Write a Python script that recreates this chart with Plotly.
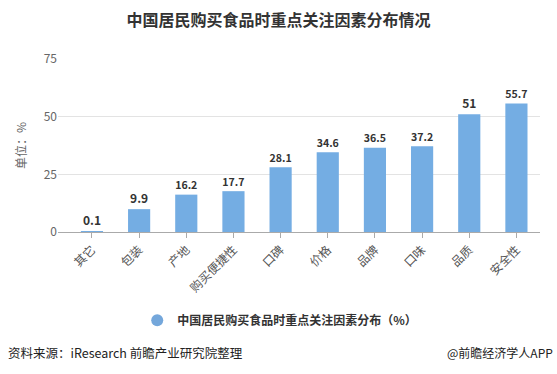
import plotly.graph_objects as go

categories = ["其它", "包装", "产地", "购买便捷性", "口碑", "价格", "品牌", "口味", "品质", "安全性"]
values = [0.1, 9.9, 16.2, 17.7, 28.1, 34.6, 36.5, 37.2, 51, 55.7]
series_name = "中国居民购买食品时重点关注因素分布（%）"
title_text = "中国居民购买食品时重点关注因素分布情况"
y_ticks = [0, 25, 50, 75]
source_text = "资料来源：iResearch 前瞻产业研究院整理"
brand_text = "@前瞻经济学人APP"

FONT = "Noto Sans CJK SC, Microsoft YaHei, sans-serif"
BAR = "#74ade3"

fig = go.Figure()
fig.add_trace(go.Bar(
    x=list(range(len(categories))), y=values, width=0.47,
    marker=dict(color=BAR, line=dict(width=0)),
    text=[f"<b>{v:g}</b>" for v in values], textposition="outside",
    textfont=dict(family=FONT, size=12, color="#333333"),
    cliponaxis=False, showlegend=False, name=series_name,
))
fig.add_trace(go.Scatter(
    x=[None], y=[None], mode="markers", name=f"<b>{series_name}</b>",
    marker=dict(symbol="circle", size=12, color="#74a7db"), showlegend=True,
))

fig.update_layout(
    width=557, height=374,
    margin=dict(l=58, r=17, t=59, b=142),
    paper_bgcolor="white", plot_bgcolor="white",
    title=dict(text=f"<b>{title_text}</b>", x=0.5, xanchor="center",
               y=1 - 20 / 374, yanchor="middle",
               font=dict(family=FONT, size=16, color="#333333")),
    font=dict(family=FONT),
    bargap=0.5,
    legend=dict(orientation="h", x=0.46, xanchor="center", y=-0.51, yanchor="middle",
                font=dict(family=FONT, size=12, color="#333333"),
                itemsizing="constant", bgcolor="rgba(0,0,0,0)"),
    xaxis=dict(
        range=[-0.72, 9.5], tickmode="array", automargin=False,
        tickvals=list(range(len(categories))), ticktext=categories,
        tickangle=-45, ticks="outside", ticklen=5, tickcolor="#aaaaaa",
        showline=True, linecolor="#aaaaaa", linewidth=1,
        showgrid=False, zeroline=False,
        tickfont=dict(family=FONT, size=12, color="#555555"),
    ),
    yaxis=dict(
        range=[0, 75], tickvals=y_ticks, showgrid=True, gridcolor="#e3e3e3",
        zeroline=False, showline=False, ticks="", automargin=False,
        tickfont=dict(family=FONT, size=12, color="#666666"),
        title=dict(text="单位：%", font=dict(family=FONT, size=12, color="#666666"), standoff=14),
    ),
    annotations=[
        dict(text=source_text, xref="paper", yref="paper", x=-52 / 482, y=(232 - 352) / 173,
             xanchor="left", yanchor="middle", showarrow=False,
             font=dict(family=FONT, size=12.5, color="#222222")),
        dict(text=brand_text, xref="paper", yref="paper", x=(555 - 58) / 482, y=(232 - 352) / 173,
             xanchor="right", yanchor="middle", showarrow=False,
             font=dict(family=FONT, size=12, color="#222222")),
    ],
)

fig.write_html("out.html", config={"displayModeBar": False},
               post_script="document.body.style.margin='0px';")
